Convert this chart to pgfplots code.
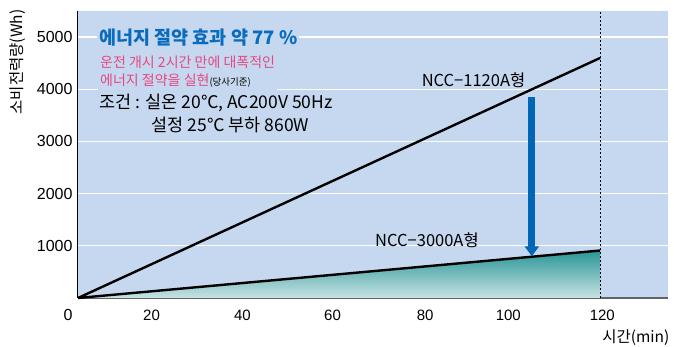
\documentclass[border=0pt]{standalone}
\usepackage{pgfplots}
\pgfplotsset{compat=1.18}
\usepackage{fontspec}
\usetikzlibrary{arrows.meta}
\setmainfont{Liberation Sans}
\newfontfamily\kr{Noto Sans CJK KR}
\definecolor{bg}{RGB}{198,216,239}
\definecolor{tealtop}{RGB}{40,150,150}
\definecolor{tealbot}{RGB}{200,226,228}
\definecolor{arrowblue}{RGB}{0,102,181}
\definecolor{titleblue}{RGB}{10,108,190}
\definecolor{pink}{RGB}{230,72,132}
\definecolor{axgray}{RGB}{100,100,100}
\begin{document}
\begin{tikzpicture}
\begin{axis}[
  scale only axis, width=590pt, height=287pt,
  xmin=0, xmax=135.6, ymin=0, ymax=5500,
  axis lines*=left,
  x axis line style={draw=axgray, line width=1.4pt},
  y axis line style={draw=black, line width=1pt},
  axis background/.style={fill=bg},
  ymajorgrids, grid style={white, line width=1.2pt},
  xtick={16.9,37.8,58.5,79.8,98.9,120.5},
  xticklabels={20,40,60,80,100,120},
  ytick={1000,2000,...,5000},
  major tick length=0pt,
  scaled y ticks=false,
  /pgf/number format/1000 sep={},
  /pgf/number format/assume math mode=true,
  tick label style={font=\fontsize{16}{16}\selectfont},
  xticklabel style={font=\fontsize{15}{15}\selectfont, yshift=-8.5pt},
  yticklabel style={xshift=-2pt},
  clip=false,
]
\addplot[draw=none, shading=axis, top color=tealtop, bottom color=tealbot] coordinates {(0,0)(120,910)(120,0)} -- cycle;
\addplot[black, line width=2.4pt] coordinates {(0,0)(120,4600)};
\addplot[black, line width=2.4pt] coordinates {(0,0)(120,910)};
\addplot[black, line width=0.8pt, dash pattern=on 2pt off 2pt] coordinates {(120,0)(120,5500)};
\addplot[arrowblue, line width=7pt, -{Triangle[width=14pt,length=10pt]}] coordinates {(104.3,3850)(104.3,800)};
\node[anchor=west, fill=bg, inner xsep=2pt, inner ysep=1pt, text=titleblue, font=\kr\bfseries\fontsize{18.5}{19}\selectfont] at (axis cs:4.4,4983) {에너지 절약 효과 약 77 \%};
\node[anchor=north west, fill=bg, inner xsep=2pt, inner ysep=3pt, align=left, text=pink, font=\kr\fontsize{14}{18}\selectfont] at (axis cs:4.6,4700) {운전 개시 2시간 만에 대폭적인\\에너지 절약을 실현{\color{black}\fontsize{9.5}{9.5}\selectfont(당사기준)}};
\node[anchor=west, font=\kr\fontsize{17.5}{17.5}\selectfont] at (axis cs:4.1,3737) {조건 : 실온 20℃, AC200V 50Hz};
\node[anchor=west, font=\kr\fontsize{17.5}{17.5}\selectfont] at (axis cs:16.1,3315) {설정 25℃ 부하 860W};
\node[anchor=west, font=\kr\fontsize{16.5}{16.5}\selectfont] at (axis cs:78.2,4178) {NCC−1120A형};
\node[anchor=west, font=\kr\fontsize{16.5}{16.5}\selectfont] at (axis cs:67.5,1111) {NCC−3000A형};
\node[font=\fontsize{16}{16}\selectfont] at (axis cs:-2.3,-330) {0};
\node[rotate=90, font=\kr\fontsize{15.5}{15.5}\selectfont] at (axis cs:-13.8,4523) {소비전력량(Wh)};
\node[font=\kr\fontsize{15.5}{15.5}\selectfont] at (axis cs:128.2,-767) {시간(min)};
\coordinate (O) at (rel axis cs:0,0);
\end{axis}
\pgfresetboundingbox
\useasboundingbox (O) ++(-78pt,-49pt) rectangle ++(674pt,347pt);
\end{tikzpicture}
\end{document}
